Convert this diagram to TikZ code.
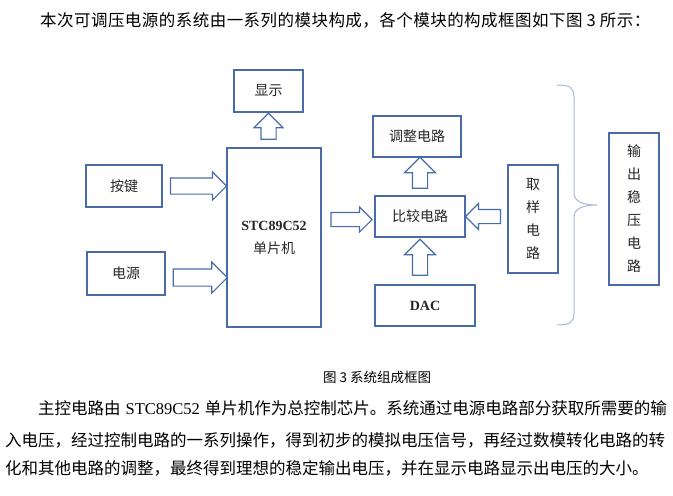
\documentclass[tikz,border=0pt]{standalone}
\usepackage{fontspec}
\setmainfont{Liberation Serif}
\newfontfamily\cjk{Noto Sans CJK SC}
\newfontfamily\cjkintro{Noto Sans CJK SC}[LetterSpace=2.8]
\usetikzlibrary{shapes.arrows,calc}
\definecolor{boxblue}{HTML}{4A6BAA}
\definecolor{bracegray}{HTML}{A7B9D6}
% spread a run of characters over a fixed width
\def\spreadloop#1{\ifx#1\relax\else#1\hfil\expandafter\spreadloop\fi}
\newcommand\spreadtext[2]{\makebox[#1][s]{\spreadloop#2\relax\unskip}}
\tikzset{
  blk/.style={draw=boxblue, line width=1.1pt, inner sep=0pt, align=center,
    text=black!85, font=\fontsize{14}{23}\selectfont\cjk},
  barrow/.style n args={3}{single arrow, draw=boxblue, line width=1.1pt,
    inner sep=#2, single arrow head extend=#3, minimum height=#1},
  para/.style={anchor=west, inner sep=0pt, font=\fontsize{16.5}{16.5}\selectfont\cjk}
}

\begin{document}
\begin{tikzpicture}[x=1pt,y=-1pt]
  \useasboundingbox (0,0) rectangle (673,496);

  % Intro line
  \node[para, font=\fontsize{16.5}{16.5}\selectfont\cjkintro] (intro) at (40,20) {本次可调压电源的系统由一系列的模块构成，各个模块的构成框图如下图 3 所示：};

  % Input blocks and MCU
  \node[blk, minimum width=76, minimum height=42] (key) at (124,186) {按键};
  \node[blk, minimum width=78, minimum height=43] (psu) at (126,273.5) {电源};
  \node[blk, minimum width=94, minimum height=179] (mcu) at (274,237.5) {{\rmfamily\bfseries STC89C52}\\单片机};
  \node[blk, minimum width=69, minimum height=42] (disp) at (268.5,91) {显示};

  % Comparator column
  \node[blk, minimum width=88, minimum height=41] (adj) at (417,136.5) {调整电路};
  \node[blk, minimum width=90, minimum height=41] (cmp) at (420,216.5) {比较电路};
  \node[blk, minimum width=100, minimum height=41] (dac) at (425,305.5) {\rmfamily\bfseries DAC};
  \node[blk, minimum width=50, minimum height=108] (smp) at (533,219) {取\\样\\电\\路};
  \node[blk, minimum width=50, minimum height=152] (out) at (634,209) {输\\出\\稳\\压\\电\\路};

  % Block arrows
  \node[barrow={56}{7.5pt}{6pt}] (keyArr) at ($(key.east)!.5!(key.east -| mcu.west)$) {};
  \node[barrow={54}{8pt}{7pt}, yshift=-4pt] (psuArr) at ($(psu.east)!.5!(psu.east -| mcu.west)$) {};
  \node[barrow={26}{7pt}{7pt}, shape border rotate=90] (dispArr) at ($(disp.south)!.5!(disp.south |- mcu.north)$) {};
  \node[barrow={41}{6.5pt}{5.5pt}, yshift=-3pt] (mcuArr) at ($(cmp.west -| mcu.east)!.5!(cmp.west)$) {};
  \node[barrow={31}{7pt}{8pt}, shape border rotate=90] (adjArr) at ($(cmp.north)!.5!(cmp.north |- adj.south)$) {};
  \node[barrow={35}{6.5pt}{6pt}, shape border rotate=180] (smpArr) at ($(cmp.east)!.5!(cmp.east -| smp.west)$) {};
  \node[barrow={36}{7pt}{8pt}, shape border rotate=90] (dacArr) at ($(cmp.south)!.5!(cmp.south |- dac.north)$) {};

  % Brace
  \draw[bracegray, line width=1pt] (557,85) .. controls (569,85) and (574,87) .. (574,97)
    -- (574,193) .. controls (574,202) and (584,205) .. (597,205)
    .. controls (584,205) and (574,208) .. (574,217) -- (574,313)
    .. controls (574,323) and (569,325) .. (557,325);

  % Caption and text
  \node[para, font=\fontsize{13.5}{13.5}\selectfont\cjk] (capt) at (323,377) {图 3 系统组成框图};
  \node[para] (line1) at (38,408) {主控电路由\hspace{5pt}{\rmfamily STC89C52}\hspace{5pt}\spreadtext{459pt}{单片机作为总控制芯片。系统通过电源电路部分获取所需要的输}};
  \node[para] (line2) at (5,440) {入电压，经过控制电路的一系列操作，得到初步的模拟电压信号，再经过数模转化电路的转};
  \node[para] (line3) at (5,468) {化和其他电路的调整，最终得到理想的稳定输出电压，并在显示电路显示出电压的大小。};
\end{tikzpicture}
\end{document}
